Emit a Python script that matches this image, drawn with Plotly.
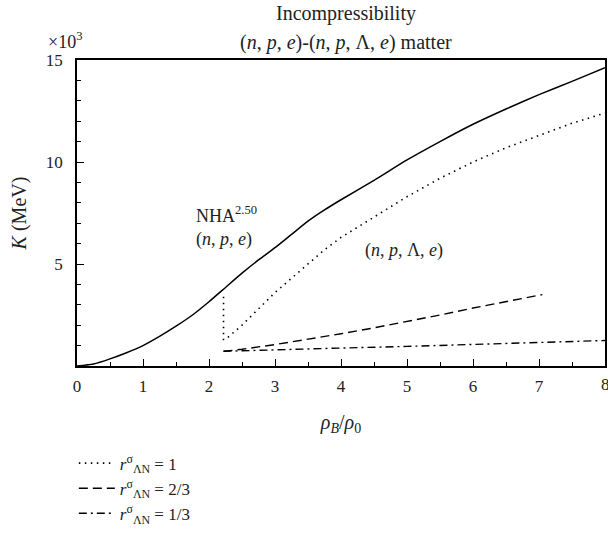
import plotly.graph_objects as go

# Solid: (n,p,e) matter, K in units of 10^3 MeV
x_npe = [0, 0.25, 0.5, 0.75, 1.0, 1.25, 1.5, 1.75, 2.0, 2.25, 2.5, 2.75, 3.0, 3.25, 3.5,
         3.75, 4.0, 4.5, 5.0, 5.5, 6.0, 6.5, 7.0, 7.5, 8.0]
k_npe = [0, 0.1, 0.35, 0.65, 1.0, 1.45, 1.95, 2.5, 3.15, 3.85, 4.55, 5.2, 5.8, 6.45, 7.1,
         7.65, 8.15, 9.1, 10.1, 11.0, 11.85, 12.6, 13.3, 13.95, 14.62]

# Dotted: r = 1
x_r1 = [2.22, 2.22, 2.25, 2.5, 2.75, 3.0, 3.25, 3.5, 3.75, 4.0, 4.5, 5.0, 5.5, 6.0, 6.5, 7.0, 7.5, 8.0]
k_r1 = [3.4, 1.3, 1.3, 2.0, 2.8, 3.6, 4.3, 5.0, 5.7, 6.3, 7.3, 8.3, 9.2, 10.0, 10.7, 11.3, 11.9, 12.4]

# Dashed: r = 2/3
x_r23 = [2.22, 2.5, 3.0, 3.5, 4.0, 4.5, 5.0, 5.5, 6.0, 6.5, 7.05]
k_r23 = [0.72, 0.82, 1.05, 1.3, 1.58, 1.87, 2.17, 2.5, 2.84, 3.17, 3.5]

# Dash-dot: r = 1/3
x_r13 = [2.22, 3.0, 4.0, 5.0, 6.0, 7.0, 8.0]
k_r13 = [0.72, 0.8, 0.88, 0.96, 1.05, 1.15, 1.25]

x_ticks = [0, 1, 2, 3, 4, 5, 6, 7, 8]
y_ticks = [5, 10, 15]

FONT = "Liberation Serif"
C = "#222222"

fig = go.Figure()
fig.add_trace(go.Scatter(x=x_npe, y=k_npe, mode="lines", line=dict(color="black", width=1.5, shape="spline", smoothing=0.6),
                         showlegend=False))
fig.add_trace(go.Scatter(x=x_r1, y=k_r1, mode="lines", line=dict(color="black", width=1.6, dash="1.5px,4.5px"),
                         name="<i>r</i><sup>σ</sup><sub>ΛN</sub> = 1"))
fig.add_trace(go.Scatter(x=x_r23, y=k_r23, mode="lines", line=dict(color="black", width=1.4, dash="9px,5px"),
                         name="<i>r</i><sup>σ</sup><sub>ΛN</sub> = 2/3"))
fig.add_trace(go.Scatter(x=x_r13, y=k_r13, mode="lines", line=dict(color="black", width=1.4, dash="8px,4px,2px,4px"),
                         name="<i>r</i><sup>σ</sup><sub>ΛN</sub> = 1/3"))

fig.update_layout(
    width=608, height=533,
    margin=dict(l=77, r=3, t=60, b=167, autoexpand=False),
    paper_bgcolor="white", plot_bgcolor="white",
    font=dict(family=FONT, size=17, color=C),
    legend=dict(x=-0.006, xanchor="left", y=-0.26, yanchor="top", bgcolor="rgba(0,0,0,0)",
                font=dict(size=17), tracegroupgap=0, itemwidth=36),
    xaxis=dict(range=[0, 8], tickvals=x_ticks, ticks="inside", ticklen=7, tickcolor="black",
               showline=True, linecolor="black", linewidth=1.5, mirror=True, showgrid=False, zeroline=False,
               automargin=False, ticklabelstandoff=4,
               minor=dict(dtick=0.5, ticks="inside", ticklen=4, tickcolor="black"),
               title=dict(text="<i>ρ<sub>B</sub></i>/<i>ρ</i><sub>0</sub>", standoff=20)),
    yaxis=dict(range=[0, 15], tickvals=y_ticks, ticks="inside", ticklen=7, tickcolor="black",
               showline=True, linecolor="black", linewidth=1.5, mirror=True, showgrid=False, zeroline=False,
               automargin=False, ticklabelstandoff=9,
               minor=dict(dtick=1, ticks="inside", ticklen=4, tickcolor="black"),
               title=dict(text="<i>K</i> (MeV)", standoff=14)),
    annotations=[
        dict(text="Incompressibility", xref="paper", yref="paper", x=0.509, y=1.152,
             xanchor="center", yanchor="middle", showarrow=False, font=dict(size=20)),
        dict(text="(<i>n</i>, <i>p</i>, <i>e</i>)-(<i>n</i>, <i>p</i>, Λ, <i>e</i>) matter", xref="paper", yref="paper",
             x=0.509, y=1.057, xanchor="center", yanchor="middle", showarrow=False, font=dict(size=20)),
        dict(text="×10<sup>3</sup>", xref="paper", yref="paper", x=-0.059, y=1.065, xanchor="left",
             yanchor="middle", showarrow=False, font=dict(size=18)),
        dict(text="NHA<sup>2.50</sup><br>(<i>n</i>, <i>p</i>, <i>e</i>)", xref="x", yref="y", x=1.77, y=8.1,
             xanchor="left", yanchor="top", align="left", showarrow=False, font=dict(size=18)),
        dict(text="(<i>n</i>, <i>p</i>, Λ, <i>e</i>)", xref="x", yref="y", x=4.96, y=5.67,
             xanchor="center", yanchor="middle", showarrow=False, font=dict(size=18)),
        dict(text=str(x_ticks[-1]), xref="x", yref="paper", x=x_ticks[-1], y=-0.062,
             xanchor="center", yanchor="middle", showarrow=False, font=dict(size=17)),
    ],
)

fig.write_html("out.html", config={"displayModeBar": False},
               post_script="document.body.style.margin='0px';")
